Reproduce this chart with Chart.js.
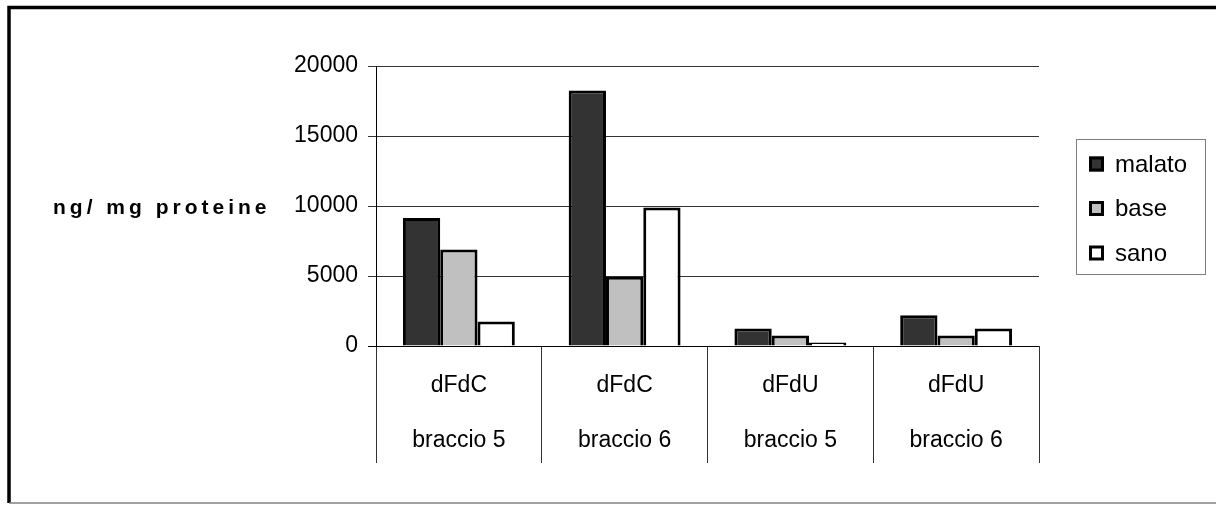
<!DOCTYPE html>
<html>
<head>
<meta charset="utf-8">
<script src="https://cdn.jsdelivr.net/npm/chart.js@4.4.0/dist/chart.umd.min.js"></script>
<style>
  html, body { margin: 0; padding: 0; background: #fff; }
</style>
</head>
<body>
<canvas id="act" width="1216" height="505"></canvas>
<script>
const categories = [['dFdC', 'braccio 5'], ['dFdC', 'braccio 6'], ['dFdU', 'braccio 5'], ['dFdU', 'braccio 6']];
const malato = [9150, 18250, 1250, 2200];
const base = [6900, 4950, 750, 750];
const sano = [1750, 9900, 250, 1250];
const yTicks = [0, 5000, 10000, 15000, 20000];
const seriesNames = ['malato', 'base', 'sano'];
const yTitle = 'ng/ mg proteine';

const FONT = "'Liberation Sans', Arial, sans-serif";

// frame, axis title and boxed legend are drawn by hand
const extras = {
    id: 'extras',
    beforeDraw(chart) {
        const c = chart.ctx;
        c.save();
        c.fillStyle = '#fff';
        c.fillRect(0, 0, chart.width, chart.height);
        c.strokeStyle = '#000';
        c.lineWidth = 3.5;
        c.beginPath();
        c.moveTo(9, 503);
        c.lineTo(9, 7.5);
        c.lineTo(chart.width, 7.5);
        c.stroke();
        c.strokeStyle = '#808080';
        c.lineWidth = 1.5;
        c.beginPath();
        c.moveTo(9, 503);
        c.lineTo(chart.width, 503);
        c.stroke();
        c.restore();
    },
    afterDraw(chart) {
        const c = chart.ctx;
        const area = chart.chartArea;
        c.save();
        // y title
        c.fillStyle = '#000';
        c.font = 'bold 21px ' + FONT;
        c.letterSpacing = '4px';
        c.textBaseline = 'alphabetic';
        c.textAlign = 'left';
        c.fillText(yTitle, 53, 214);
        c.letterSpacing = '0px';

        // legend
        const left = area.right + 37, top = 139;
        c.strokeStyle = '#808080';
        c.lineWidth = 1;
        c.strokeRect(left + 0.5, top + 0.5, 129, 135);
        chart.data.datasets.forEach((ds, i) => {
            const cy = top + 24.5 + i * 44.5;
            c.fillStyle = ds.backgroundColor;
            c.fillRect(left + 13, cy - 7, 15, 15);
            c.strokeStyle = '#000';
            c.lineWidth = 3;
            c.strokeRect(left + 14.5, cy - 5.5, 12, 12);
            c.fillStyle = '#000';
            c.font = '24px ' + FONT;
            c.fillText(ds.label, left + 39, cy + 8);
        });
        c.restore();
    }
};

const ctx = document.getElementById('act').getContext('2d');

const act = new Chart(ctx, {
    type: 'bar',
    data: {
        labels: categories,
        datasets: [
            { label: seriesNames[0], data: malato, backgroundColor: '#333333' },
            { label: seriesNames[1], data: base, backgroundColor: '#c0c0c0' },
            { label: seriesNames[2], data: sano, backgroundColor: '#ffffff' }
        ].map(d => Object.assign(d, {
            borderColor: '#000',
            borderWidth: 3,
            categoryPercentage: 0.675,
            barPercentage: 1.0
        }))
    },
    options: {
        responsive: false,
        animation: false,
        layout: { padding: { left: 276, right: 177, top: 66, bottom: 37 } },
        plugins: {
            legend: { display: false },
            tooltip: { enabled: false }
        },
        scales: {
            x: {
                grid: { offset: true, drawOnChartArea: false, tickLength: 117, color: '#333', lineWidth: 1 },
                border: { display: false },
                ticks: {
                    padding: -105,
                    maxRotation: 0,
                    autoSkip: false,
                    color: '#000',
                    font: { family: FONT, size: 23, lineHeight: 2.4 }
                },
                afterFit: s => { s.height = 122; }
            },
            y: {
                min: 0,
                max: 20000,
                afterBuildTicks: s => { s.ticks = yTicks.map(v => ({ value: v })); },
                border: { display: true, color: '#000', width: 1 },
                grid: {
                    color: c => (c.tick && c.tick.value === 0 ? '#000' : '#333'),
                    tickLength: 8,
                    lineWidth: 1
                },
                ticks: {
                    padding: 10,
                    color: '#000',
                    font: { family: FONT, size: 23 },
                    callback: v => String(v)
                },
                afterFit: s => { s.width = 100; }
            }
        }
    },
    plugins: [extras]
});
</script>
</body>
</html>
